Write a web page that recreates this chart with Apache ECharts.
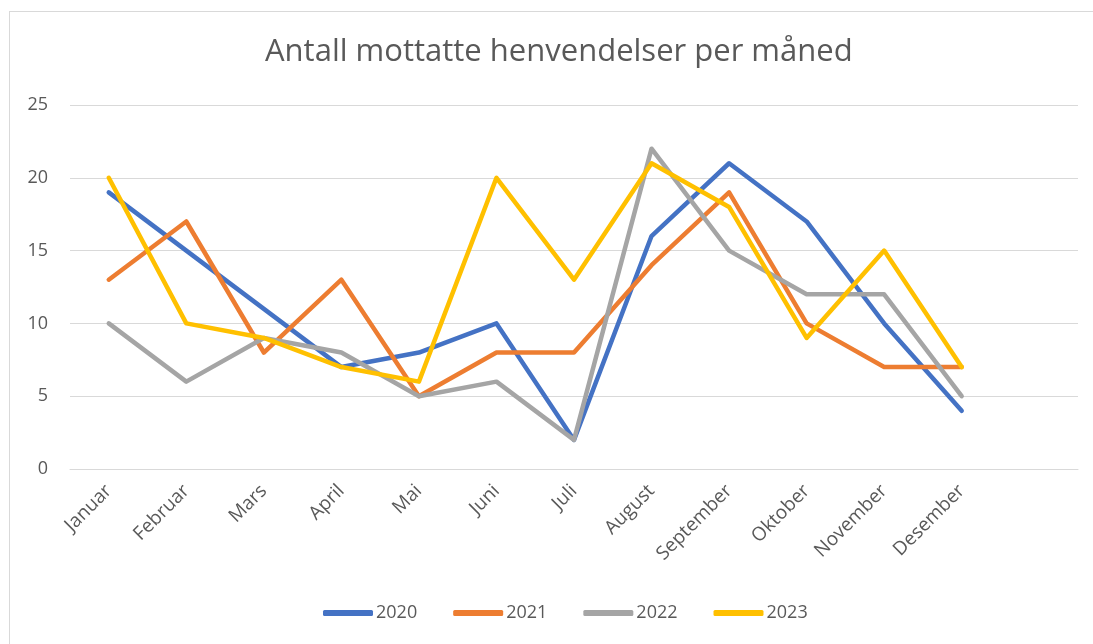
<!DOCTYPE html>
<html lang="no">

<head>
    <meta charset="UTF-8">
    <title>Antall mottatte henvendelser per måned</title>
    <style>
        body {
            margin: 0;
            background-color: #ffffff;
            overflow: hidden;
        }

        .frame {
            position: absolute;
            left: 9px;
            top: 11px;
            width: 1200px;
            height: 700px;
            border: 1px solid #d9d9d9;
        }

        #chart {
            position: absolute;
            left: 0;
            top: 0;
            width: 1093px;
            height: 644px;
        }
    </style>
</head>

<body>
    <div class="frame"></div>
    <div id="chart"></div>
    <script src="https://cdn.jsdelivr.net/npm/echarts@6/dist/echarts.min.js"></script>
    <script>
        // måneder (siste kategori er tom, slik som i originalen)
        const months = ['Januar', 'Februar', 'Mars', 'April', 'Mai', 'Juni', 'Juli',
            'August', 'September', 'Oktober', 'November', 'Desember', ''];

        const years = ['2020', '2021', '2022', '2023'];
        const data2020 = [19, 15, 11, 7, 8, 10, 2, 16, 21, 17, 10, 4];
        const data2021 = [13, 17, 8, 13, 5, 8, 8, 14, 19, 10, 7, 7];
        const data2022 = [10, 6, 9, 8, 5, 6, 2, 22, 15, 12, 12, 5];
        const data2023 = [20, 10, 9, 7, 6, 20, 13, 21, 18, 9, 15, 7];

        const colors = ['#4472c4', '#ed7d31', '#a5a5a5', '#ffc000'];
        const font = '"Open Sans", sans-serif';

        const chart = echarts.init(document.getElementById('chart'));

        const allData = [data2020, data2021, data2022, data2023];
        const series = years.map(function (y, i) {
            return {
                name: y,
                type: 'line',
                data: allData[i],
                symbol: 'none',
                lineStyle: { width: 4.5, color: colors[i], cap: 'round', join: 'round' },
                itemStyle: { color: colors[i] }
            };
        });

        chart.setOption({
            animation: false,
            textStyle: { fontFamily: font },
            title: {
                text: 'Antall mottatte henvendelser per måned',
                left: 260,
                top: 32,
                textStyle: {
                    fontFamily: font,
                    fontSize: 31,
                    fontWeight: 'normal',
                    color: '#595959'
                }
            },
            legend: {
                bottom: 17,
                left: 318,
                itemWidth: 50,
                itemHeight: 6,
                itemGap: 36,
                icon: 'roundRect',
                textStyle: { fontFamily: font, fontSize: 18, color: '#595959', padding: [0, 0, 0, -2] },
                data: years
            },
            grid: {
                left: 70,
                right: 15,
                top: 105,
                bottom: 175
            },
            xAxis: {
                type: 'category',
                data: months,
                boundaryGap: true,
                axisLine: { lineStyle: { color: '#d9d9d9', width: 1 } },
                axisTick: { show: false },
                axisLabel: {
                    interval: 0,
                    rotate: 45,
                    margin: 19,
                    fontFamily: font,
                    fontSize: 19,
                    color: '#595959'
                }
            },
            yAxis: {
                type: 'value',
                min: 0,
                max: 25,
                interval: 5,
                axisLine: { show: false },
                axisTick: { show: false },
                splitLine: { lineStyle: { color: '#d9d9d9', width: 1 } },
                axisLabel: {
                    margin: 22,
                    fontFamily: font,
                    fontSize: 18,
                    color: '#595959'
                }
            },
            series: series
        });
    </script>
</body>

</html>
